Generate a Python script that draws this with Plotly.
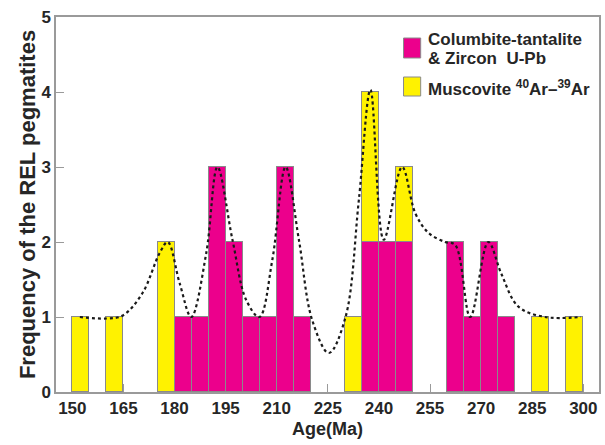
import plotly.graph_objects as go

# Histogram bins (left edge of each 5 Ma bin) and counts
bin_width = 5
utpb_bins = [180, 185, 190, 195, 200, 205, 210, 215, 235, 240, 245, 260, 265, 270, 275]
utpb_counts = [1, 1, 3, 2, 1, 1, 3, 1, 2, 2, 2, 2, 1, 2, 1]
arar_bins = [150, 160, 175, 230, 235, 245, 285, 295]
arar_counts = [1, 1, 2, 1, 2, 1, 1, 1]

# Smoothed frequency envelope (age, frequency)
curve_age = [152.2, 160.0, 164.8, 170.6, 175.6, 178.0, 181.5, 184.9, 189.3, 192.6,
             197.0, 201.0, 204.9, 208.7, 212.6, 216.5, 220.4, 225.3, 230.2, 234.1,
             237.5, 241.4, 246.8, 250.7, 254.6, 259.4, 262.4, 266.8, 272.1, 275.9,
             280.9, 288.7, 299.3]
curve_freq = [1.0, 0.98, 1.02, 1.32, 1.85, 2.0, 1.45, 1.0, 1.85, 3.0,
              2.03, 1.23, 1.0, 1.76, 3.0, 2.03, 0.96, 0.52, 1.0, 2.56,
              4.03, 2.03, 3.0, 2.38, 2.12, 2.0, 1.96, 1.0, 2.0, 1.58,
              1.14, 1.0, 1.0]

x_ticks = [150, 165, 180, 195, 210, 225, 240, 255, 270, 285, 300]
y_ticks = [0, 1, 2, 3, 4, 5]

MAGENTA = "#EC008C"
YELLOW = "#FFF200"
EDGE = "#8a8a8a"
TEXT = "#262626"
FONT = "Liberation Sans, Arial, sans-serif"

fig = go.Figure()
fig.add_trace(go.Bar(
    x=[b + bin_width / 2 for b in utpb_bins], y=utpb_counts, width=bin_width,
    marker=dict(color=MAGENTA, line=dict(color=EDGE, width=1)),
    name="Columbite-tantalite & Zircon U-Pb", showlegend=False,
))
fig.add_trace(go.Bar(
    x=[b + bin_width / 2 for b in arar_bins], y=arar_counts, width=bin_width,
    marker=dict(color=YELLOW, line=dict(color=EDGE, width=1)),
    name="Muscovite 40Ar-39Ar", showlegend=False,
))
fig.add_trace(go.Scatter(
    x=curve_age, y=curve_freq, mode="lines",
    line=dict(color="#1a1a1a", width=2.2, dash="dot", shape="spline", smoothing=1.0),
    showlegend=False, hoverinfo="skip",
))

# Legend drawn as swatches + text
swatch_x0, swatch_x1 = 0.640, 0.6716
fig.add_shape(type="rect", xref="paper", yref="paper",
              x0=swatch_x0, x1=swatch_x1, y0=0.8907, y1=0.944,
              fillcolor=MAGENTA, line=dict(color=EDGE, width=1))
fig.add_shape(type="rect", xref="paper", yref="paper",
              x0=swatch_x0, x1=swatch_x1, y0=0.7893, y1=0.84,
              fillcolor=YELLOW, line=dict(color=EDGE, width=1))
legend_font = dict(family=FONT, size=17, color=TEXT, weight="bold")
for txt, yy in [("Columbite-tantalite", 0.939),
                ("& Zircon  U-Pb", 0.888),
                ("Muscovite <sup>40</sup>Ar–<sup>39</sup>Ar", 0.810)]:
    fig.add_annotation(text=txt, xref="paper", yref="paper", x=0.6807, y=yy,
                       xanchor="left", yanchor="middle", showarrow=False,
                       font=legend_font)

axis_common = dict(
    showline=True, linecolor="#9a9a9a", linewidth=1.5, mirror=True,
    ticks="inside", ticklen=8, tickcolor="#9a9a9a", tickwidth=1,
    showgrid=False, zeroline=False, layer="below traces",
    tickfont=dict(family=FONT, size=17, color=TEXT, weight="bold"),
)
fig.update_xaxes(range=[145.2, 304.6], tickvals=x_ticks, ticktext=[str(t) for t in x_ticks],
                 title=dict(text="Age(Ma)", standoff=5,
                            font=dict(family=FONT, size=18, color=TEXT, weight="bold")),
                 **axis_common)
fig.update_yaxes(range=[0, 5], tickvals=y_ticks,
                 title=dict(text="Frequency of the REL pegmatites", standoff=0,
                            font=dict(family=FONT, size=22, color=TEXT, weight="bold")),
                 **axis_common)

fig.update_layout(
    width=605, height=445, barmode="stack", bargap=0,
    margin=dict(l=56, r=4, t=17, b=53),
    paper_bgcolor="white", plot_bgcolor="white",
)

fig.write_html("out.html")
